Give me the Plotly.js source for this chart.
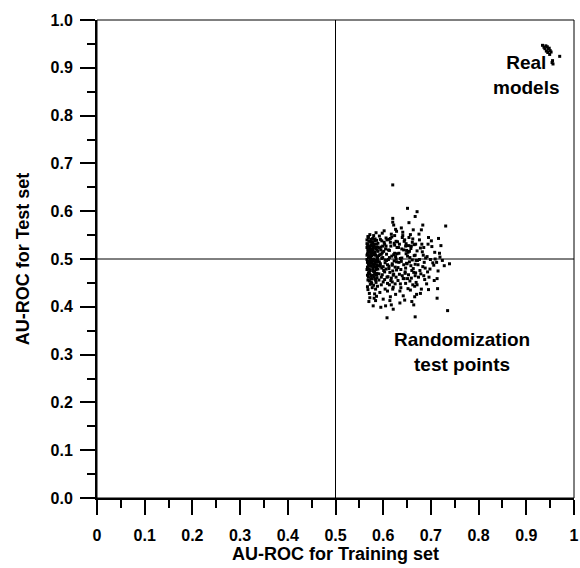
<!DOCTYPE html>
<html>
<head>
<meta charset="utf-8">
<script src="https://cdn.plot.ly/plotly-3.0.1.min.js"></script>
<style>html,body{margin:0;padding:0;background:#fff;}#chart{width:580px;height:568px;}</style>
</head>
<body>
<div id="chart"></div>
<script>
// Randomization test points: AU-ROC for training set (x) and test set (y)
const randTrainX = [
  0.566,0.571,0.568,0.574,0.569,0.572,0.567,0.573,0.570,0.575,
  0.569,0.566,0.574,0.571,0.568,0.573,0.570,0.567,0.575,0.572,
  0.573,0.567,0.570,0.575,0.568,0.572,0.566,0.574,0.569,0.571,
  0.568,0.574,0.571,0.566,0.573,0.569,0.575,0.570,0.567,0.572,
  0.570,0.575,0.567,0.572,0.569,0.574,0.566,0.571,0.573,0.568,
  0.572,0.568,0.575,0.569,0.571,0.566,0.574,0.567,0.570,0.573,
  0.577,0.582,0.579,0.586,0.581,0.588,0.578,0.584,0.580,0.587,
  0.583,0.576,0.589,0.580,0.585,0.578,0.582,0.587,0.579,0.584,
  0.586,0.579,0.581,0.577,0.588,0.583,0.576,0.585,0.582,0.589,
  0.580,0.587,0.578,0.584,0.577,0.582,0.586,0.579,0.588,0.581,
  0.584,0.578,0.586,0.581,0.589,0.576,0.583,0.580,0.585,0.587,
  0.579,0.585,0.577,0.583,0.580,0.588,0.582,0.576,0.586,0.584,
  0.582,0.577,0.587,0.579,0.584,0.581,0.589,0.578,0.583,0.586,
  0.592,0.598,0.594,0.603,0.596,0.607,0.591,0.600,0.605,0.597,
  0.601,0.593,0.606,0.595,0.609,0.599,0.604,0.592,0.602,0.608,
  0.595,0.604,0.591,0.600,0.597,0.606,0.593,0.609,0.598,0.603,
  0.607,0.596,0.602,0.594,0.599,0.591,0.605,0.597,0.608,0.600,
  0.598,0.603,0.592,0.606,0.595,0.601,0.609,0.594,0.604,0.596,
  0.612,0.618,0.614,0.624,0.616,0.628,0.611,0.621,0.626,0.619,
  0.622,0.613,0.627,0.615,0.629,0.620,0.625,0.617,0.623,0.610,
  0.616,0.625,0.611,0.620,0.618,0.627,0.614,0.629,0.622,0.612,
  0.627,0.617,0.623,0.613,0.619,0.626,0.615,0.621,0.628,0.624,
  0.619,0.624,0.612,0.628,0.615,0.621,0.617,0.626,0.613,0.622,
  0.632,0.638,0.634,0.644,0.636,0.648,0.631,0.641,0.646,0.639,
  0.642,0.633,0.647,0.635,0.649,0.640,0.645,0.637,0.643,0.630,
  0.636,0.645,0.631,0.640,0.638,0.647,0.634,0.649,0.642,
  0.647,0.637,0.643,0.633,0.639,0.646,0.635,0.641,0.648,0.644,
  0.652,0.658,0.654,0.664,0.656,0.668,0.651,0.661,0.666,0.659,
  0.662,0.653,0.667,0.655,0.669,0.660,0.665,0.657,0.663,0.650,
  0.656,0.665,0.651,0.660,0.658,0.667,0.654,0.669,0.662,0.652,
  0.667,0.657,0.663,0.653,0.659,0.666,0.655,0.661,0.668,0.664,
  0.672,0.678,0.674,0.684,0.676,0.688,0.671,0.681,0.686,0.679,
  0.682,0.673,0.687,0.675,0.689,0.680,0.685,0.677,0.683,0.670,
  0.676,0.685,0.671,0.680,0.678,
  0.692,0.698,0.694,0.704,0.696,0.708,0.691,0.701,0.706,0.699,
  0.702,0.693,0.707,0.695,0.709,
  0.712,0.718,0.715,0.724,0.721,0.728,0.713,0.719,
  0.620,0.651,0.671,0.620,0.620,0.667,0.683,0.731,0.716,0.739,
  0.735,0.608,0.667,0.713,0.714,0.695
];
const randTestY = [
  0.532,0.518,0.547,0.503,0.489,0.526,0.511,0.476,0.495,0.541,
  0.462,0.508,0.529,0.454,0.521,0.497,0.538,0.483,0.512,0.468,
  0.447,0.493,0.505,0.486,0.436,0.551,0.524,0.459,0.502,0.479,
  0.517,0.535,0.428,0.499,0.514,0.471,0.494,0.524,0.442,0.507,
  0.488,0.465,0.531,0.419,0.545,0.509,0.478,0.537,0.491,0.456,
  0.503,0.527,0.452,0.515,0.473,0.540,0.520,0.466,0.411,0.485,
  0.528,0.511,0.496,0.539,0.463,0.502,0.481,0.524,0.549,0.470,
  0.493,0.507,0.516,0.445,0.478,0.534,0.427,0.488,0.519,0.456,
  0.531,0.489,0.509,0.459,0.443,0.468,0.492,0.521,0.538,0.497,
  0.474,0.505,0.543,0.413,0.516,0.483,0.467,0.402,0.525,0.500,
  0.437,0.523,0.494,0.527,0.479,0.449,0.514,0.486,0.555,0.461,
  0.513,0.451,0.499,0.542,0.531,0.486,0.472,0.536,0.422,0.508,
  0.490,0.440,0.519,0.476,0.497,0.418,0.533,0.466,0.458,0.484,
  0.548,0.513,0.485,0.531,0.462,0.497,0.507,0.452,0.521,0.538,
  0.476,0.430,0.544,0.519,0.488,0.503,0.437,0.494,0.559,0.462,
  0.525,0.498,0.469,0.416,0.481,0.527,0.509,0.449,0.554,0.473,
  0.510,0.446,0.535,0.490,0.527,0.456,0.402,0.501,0.540,0.484,
  0.467,0.457,0.523,0.479,0.399,0.516,0.433,0.541,0.492,0.510,
  0.541,0.506,0.472,0.529,0.455,0.494,0.519,0.441,0.562,0.487,
  0.468,0.503,0.537,0.421,0.511,0.475,0.448,0.552,0.496,0.463,
  0.527,0.483,0.499,0.437,0.546,0.462,0.413,0.524,0.509,0.480,
  0.500,0.460,0.533,0.518,0.490,0.426,0.543,0.395,0.477,0.549,
  0.452,0.512,0.485,0.558,0.535,0.466,0.404,0.505,0.446,0.571,
  0.524,0.495,0.468,0.537,0.448,0.511,0.482,0.556,0.473,0.502,
  0.459,0.512,0.527,0.433,0.491,0.545,0.414,0.478,0.488,0.536,
  0.501,0.540,0.455,0.465,0.565,0.449,0.531,0.518,0.423,
  0.481,0.440,0.519,0.493,0.521,0.470,0.408,0.549,0.532,0.459,
  0.514,0.486,0.545,0.472,0.503,0.531,0.459,0.498,0.421,0.527,
  0.542,0.467,0.489,0.516,0.451,0.476,0.507,0.435,0.561,0.490,
  0.454,0.530,0.506,0.411,0.522,0.465,0.576,0.497,0.446,0.438,
  0.508,0.551,0.480,0.528,0.460,0.443,0.494,0.535,0.471,0.404,
  0.497,0.523,0.462,0.508,0.540,0.481,0.446,0.531,0.493,0.469,
  0.515,0.488,0.457,0.552,0.502,0.437,0.524,0.476,0.484,0.426,
  0.499,0.465,0.517,0.561,0.428,
  0.505,0.479,0.531,0.492,0.462,0.514,0.448,0.538,0.487,0.499,
  0.526,0.473,0.455,0.545,0.500,
  0.493,0.512,0.475,0.497,0.528,0.486,0.459,0.504,
  0.655,0.606,0.599,0.585,0.577,0.589,0.571,0.569,0.543,0.490,
  0.392,0.377,0.379,0.418,0.438,0.436
];
// Real models
const realTrainX = [0.934,0.937,0.941,0.939,0.944,0.946,0.942,0.948,0.950,0.945,0.952,0.949,0.970,0.955,0.956,0.954];
const realTestY  = [0.947,0.943,0.946,0.940,0.944,0.939,0.935,0.941,0.936,0.932,0.933,0.928,0.924,0.915,0.908,0.911];

const xTickVals = [0,0.1,0.2,0.3,0.4,0.5,0.6,0.7,0.8,0.9,1];
const xTickText = ["0","0.1","0.2","0.3","0.4","0.5","0.6","0.7","0.8","0.9","1"];
const yTickVals = [0,0.1,0.2,0.3,0.4,0.5,0.6,0.7,0.8,0.9,1];
const yTickText = ["0.0","0.1","0.2","0.3","0.4","0.5","0.6","0.7","0.8","0.9","1.0"];

const FONT = "Liberation Sans, Arial, sans-serif";

const traces = [
  {x: randTrainX, y: randTestY, type: 'scatter', mode: 'markers',
   marker: {symbol: 'square', size: 3, color: '#000', line: {width: 0}}, hoverinfo: 'skip'},
  {x: realTrainX, y: realTestY, type: 'scatter', mode: 'markers',
   marker: {symbol: 'square', size: 3, color: '#000', line: {width: 0}}, hoverinfo: 'skip'}
];

const axisCommon = {
  range: [0, 1], showgrid: false, zeroline: false, showline: true,
  linecolor: '#000', linewidth: 2, ticks: 'outside', ticklen: 15, tickwidth: 2,
  tickcolor: '#000', fixedrange: true,
  tickfont: {family: FONT, size: 16, color: '#000', weight: 'bold'},
  minor: {dtick: 0.05, ticks: 'outside', ticklen: 8, tickwidth: 2, tickcolor: '#000', showgrid: false}
};

const layout = {
  width: 580, height: 568,
  margin: {l: 97, r: 6, t: 20, b: 70},
  paper_bgcolor: '#fff', plot_bgcolor: '#fff',
  showlegend: false,
  font: {family: FONT, color: '#000'},
  xaxis: Object.assign({}, axisCommon, {
    tickvals: xTickVals, ticktext: xTickText, ticklabelstandoff: 7,
    title: {text: '<b>AU-ROC for Training set</b>', font: {family: FONT, size: 18, color: '#000'}, standoff: 4}
  }),
  yaxis: Object.assign({}, axisCommon, {
    tickvals: yTickVals, ticktext: yTickText, ticklabelstandoff: 4,
    title: {text: '<b>AU-ROC for Test set</b>', font: {family: FONT, size: 18, color: '#000'}, standoff: 16}
  }),
  shapes: [
    {type: 'rect', xref: 'paper', yref: 'paper', x0: 0, x1: 1, y0: 0, y1: 1, line: {color: '#000', width: 1}},
    {type: 'line', xref: 'x', yref: 'paper', x0: 0.5, x1: 0.5, y0: 0, y1: 1, line: {color: '#000', width: 1}},
    {type: 'line', xref: 'paper', yref: 'y', x0: 0, x1: 1, y0: 0.5, y1: 0.5, line: {color: '#000', width: 1}}
  ],
  annotations: [
    {x: 0.9, y: 0.885, xref: 'x', yref: 'y', text: '<b>Real<br>models</b>', showarrow: false,
     font: {family: FONT, size: 19, color: '#000'}, align: 'center'},
    {x: 0.765, y: 0.305, xref: 'x', yref: 'y', text: '<b>Randomization<br>test points</b>', showarrow: false,
     font: {family: FONT, size: 19, color: '#000'}, align: 'center'}
  ]
};

Plotly.newPlot('chart', traces, layout, {displayModeBar: false, staticPlot: true});
</script>
</body>
</html>
